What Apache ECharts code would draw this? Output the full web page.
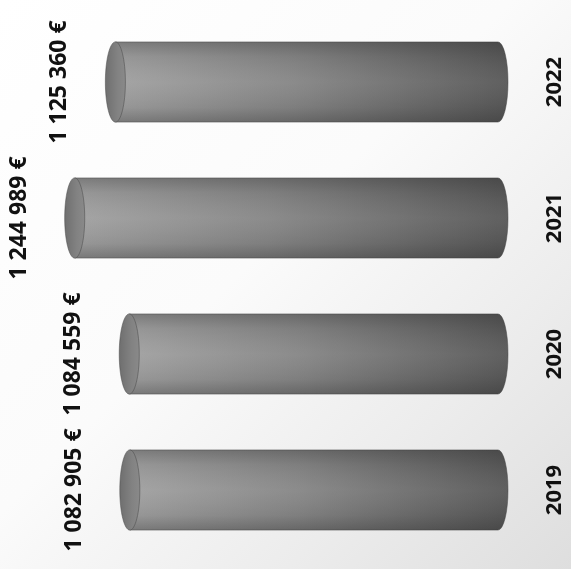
<!DOCTYPE html>
<html>
<head>
<meta charset="utf-8">
<script src="https://cdn.jsdelivr.net/npm/echarts@6/dist/echarts.min.js"></script>
<style>
  html, body { margin: 0; padding: 0; background: #ffffff; }
  #chart { width: 571px; height: 569px; }
</style>
</head>
<body>
<div id="chart"></div>
<script>
// Yearly totals in euros, one cylinder per year
const years = ['2019', '2020', '2021', '2022'];
const totals = [1082905, 1084559, 1244989, 1125360];

// "1 082 905 €" style: groups of three separated by spaces
function formatEuro(v) {
  return String(v).replace(/\B(?=(\d{3})+(?!\d))/g, ' ') + ' €';
}

const FONT = '"Open Sans", "Noto Sans", sans-serif';

function renderCylinder(params, api) {
  const value = api.value(1);
  const cat = api.value(0);
  const end = api.coord([value, cat]);   // left end (value)
  const start = api.coord([0, cat]);     // right end (zero)
  const band = api.size([0, 1])[1];
  const ry = band * 0.295;
  const rx = ry * 0.25;
  const cy = end[1];
  const xl = end[0];
  const xr = start[0];

  // body: rectangle with rounded (elliptical) right end
  const bodyPath =
    'M' + xl + ' ' + (cy - ry) +
    ' L' + xr + ' ' + (cy - ry) +
    ' A' + rx + ' ' + ry + ' 0 0 1 ' + xr + ' ' + (cy + ry) +
    ' L' + xl + ' ' + (cy + ry) + ' Z';

  return {
    type: 'group',
    children: [
      {
        type: 'path',
        shape: { pathData: bodyPath },
        style: {
          fill: new echarts.graphic.LinearGradient(0, 0, 1, 0, [
            { offset: 0, color: '#a0a0a0' },
            { offset: 0.45, color: '#858585' },
            { offset: 1, color: '#575757' }
          ]),
          stroke: 'rgba(60,60,60,0.45)',
          lineWidth: 1
        }
      },
      {
        // shading toward the top and bottom edges of the cylinder
        type: 'path',
        shape: { pathData: bodyPath },
        style: {
          fill: new echarts.graphic.LinearGradient(0, 0, 0, 1, [
            { offset: 0, color: 'rgba(40,40,40,0.30)' },
            { offset: 0.18, color: 'rgba(40,40,40,0.08)' },
            { offset: 0.5, color: 'rgba(255,255,255,0.05)' },
            { offset: 0.82, color: 'rgba(40,40,40,0.08)' },
            { offset: 1, color: 'rgba(40,40,40,0.32)' }
          ])
        }
      },
      {
        // visible end face
        type: 'ellipse',
        shape: { cx: xl, cy: cy, rx: rx, ry: ry },
        style: {
          fill: new echarts.graphic.LinearGradient(0, 0, 1, 0, [
            { offset: 0, color: '#6e6e6e' },
            { offset: 0.6, color: '#828282' },
            { offset: 1, color: '#8a8a8a' }
          ]),
          stroke: 'rgba(70,70,70,0.5)',
          lineWidth: 1
        }
      },
      {
        type: 'text',
        x: xl - rx - 34,
        y: cy,
        rotation: Math.PI / 2,
        style: {
          text: formatEuro(value),
          font: 'bold 23px ' + FONT,
          fill: '#111111',
          align: 'center',
          verticalAlign: 'bottom'
        }
      }
    ]
  };
}

const chart = echarts.init(document.getElementById('chart'));
chart.setOption({
  animation: false,
  backgroundColor: new echarts.graphic.LinearGradient(0, 0, 1, 1, [
    { offset: 0, color: '#ffffff' },
    { offset: 0.45, color: '#fbfbfb' },
    { offset: 0.75, color: '#ececec' },
    { offset: 1, color: '#dedede' }
  ]),
  grid: { left: 5, right: 73, top: 14, bottom: 11 },
  xAxis: {
    type: 'value',
    inverse: true,
    min: 0,
    max: 1450000,
    show: false
  },
  yAxis: {
    type: 'category',
    data: years,
    position: 'right',
    axisLine: { show: false },
    axisTick: { show: false },
    axisLabel: {
      rotate: 90,
      margin: 46,
      fontFamily: FONT,
      fontWeight: 'bold',
      fontSize: 22,
      color: '#111111'
    }
  },
  series: [{
    type: 'custom',
    renderItem: renderCylinder,
    encode: { x: 1, y: 0 },
    data: years.map((y, i) => [i, totals[i]])
  }]
});
</script>
</body>
</html>
